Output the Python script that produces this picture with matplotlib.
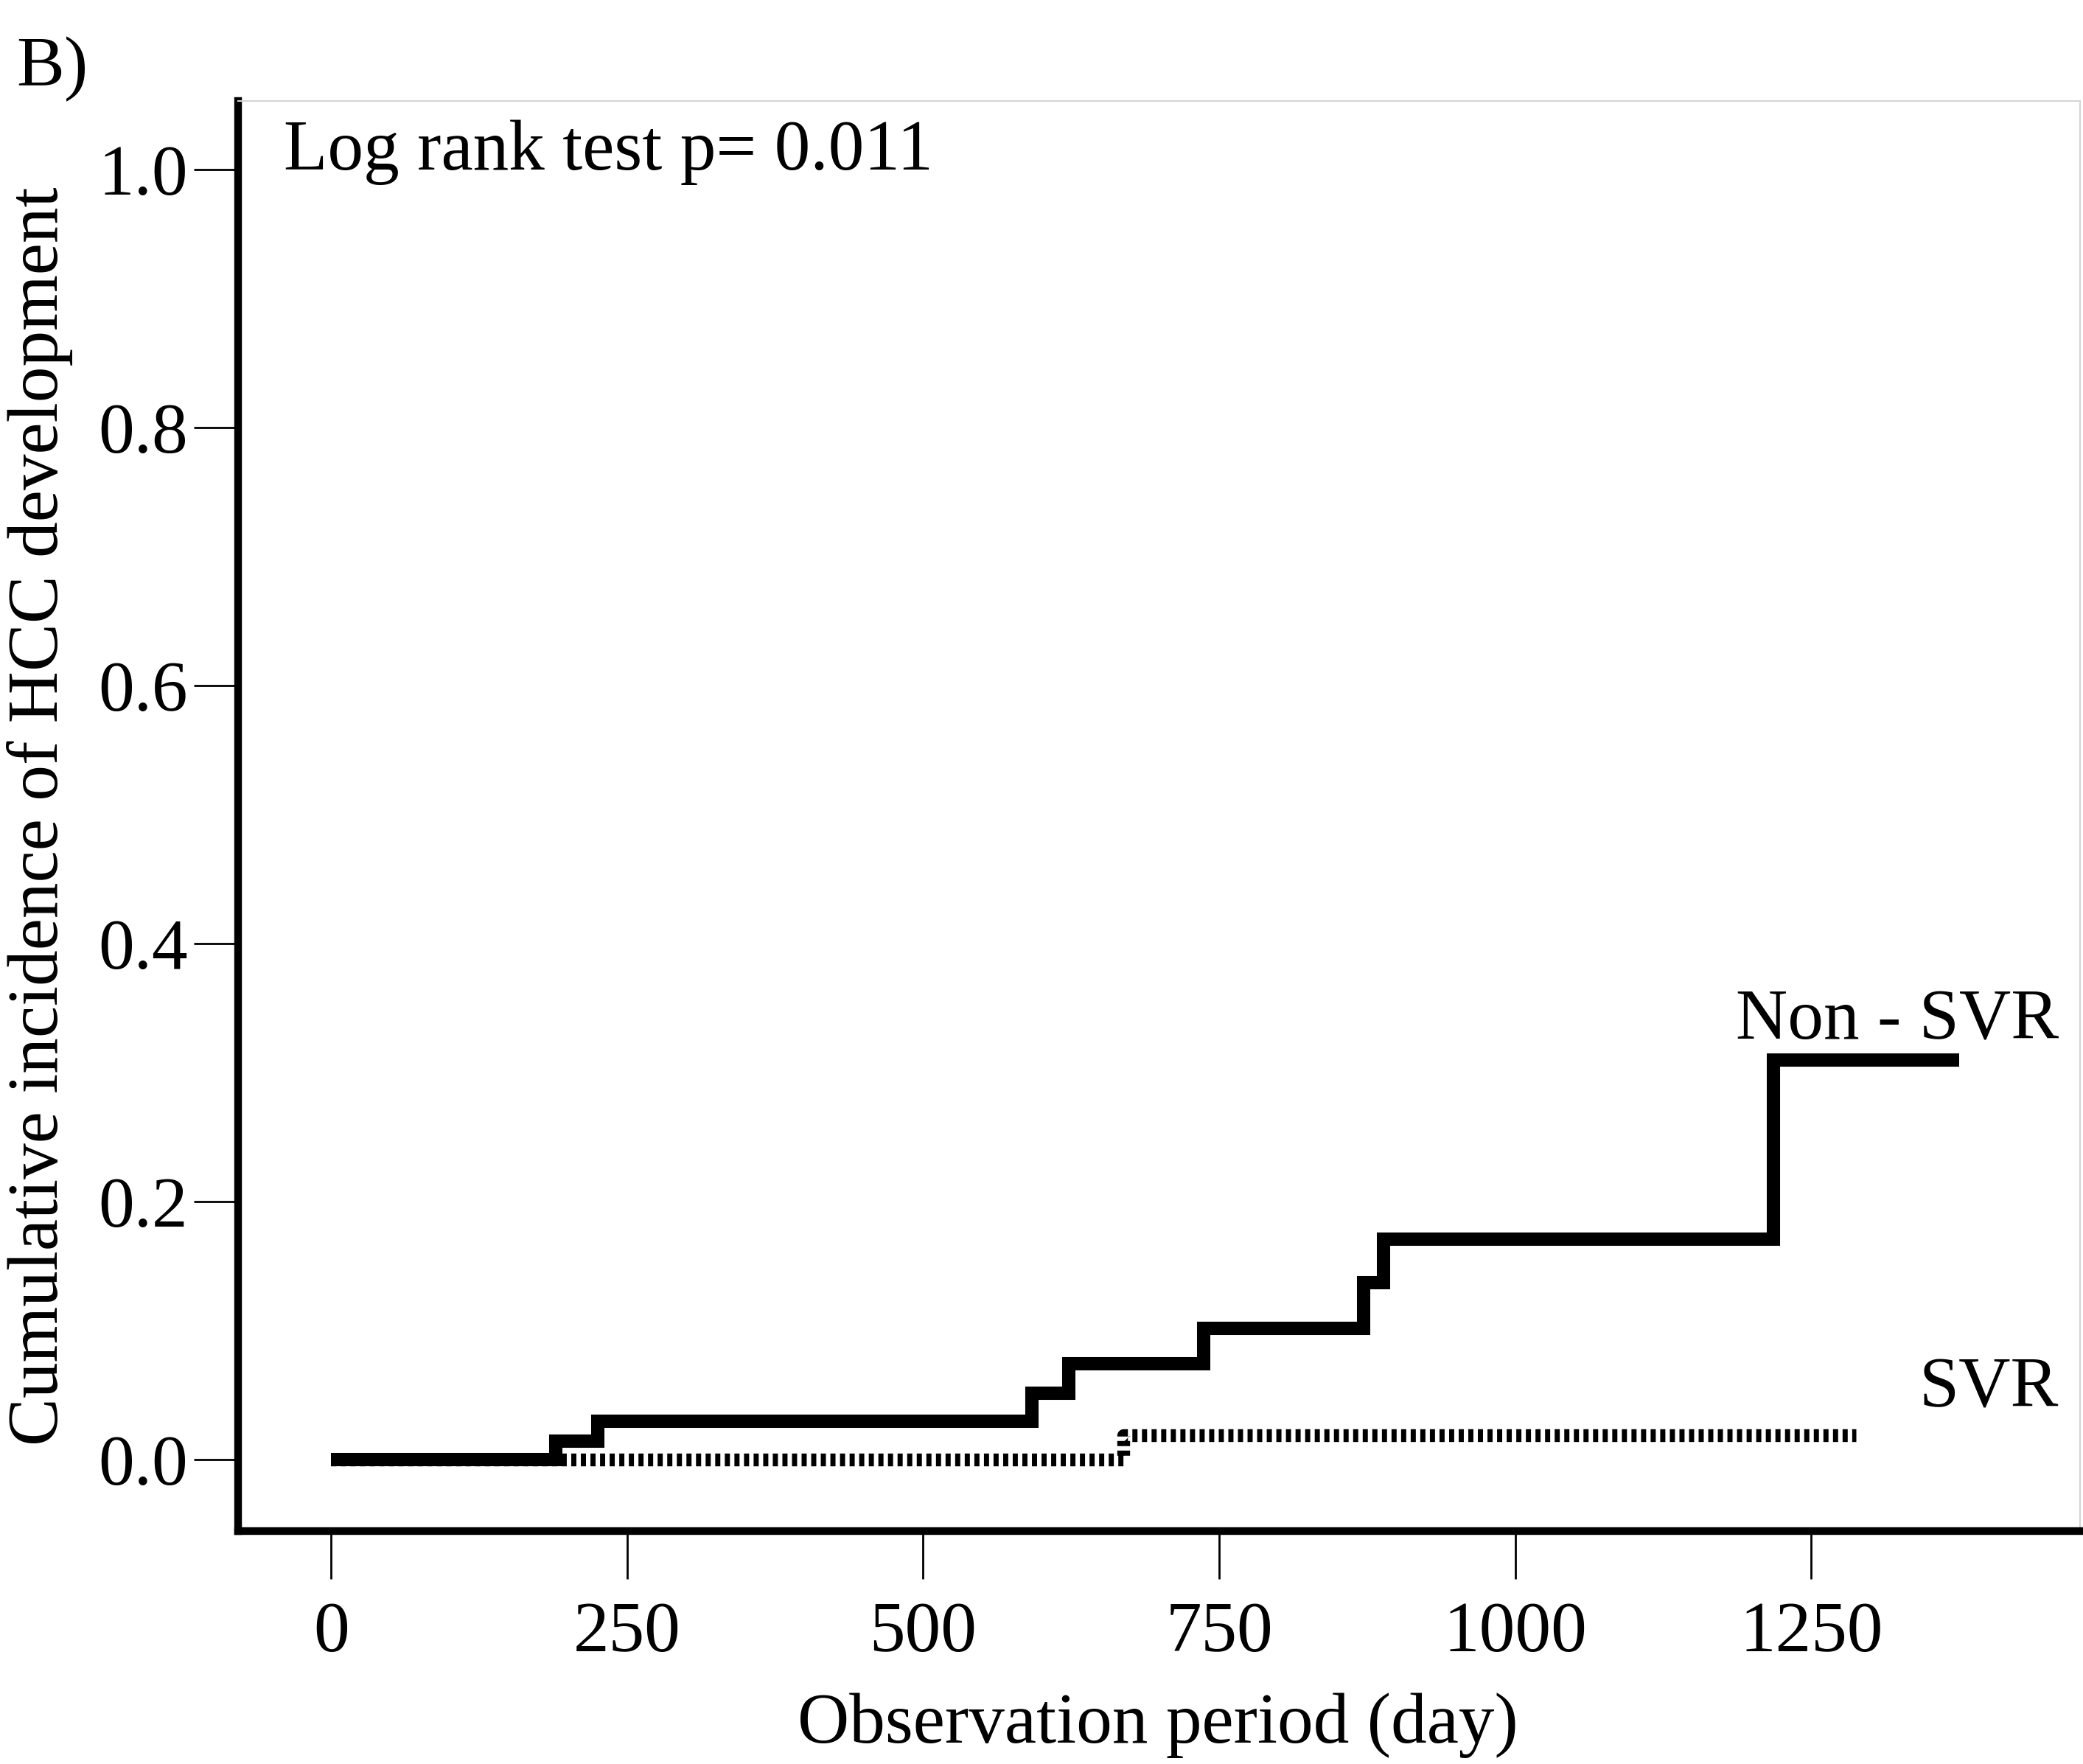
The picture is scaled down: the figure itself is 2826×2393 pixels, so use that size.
import matplotlib
matplotlib.use("Agg")
import matplotlib.pyplot as plt

# Kaplan-Meier style cumulative incidence
nonsvr_days = [0, 190, 225, 592, 623, 737, 872, 889, 1218, 1375]
nonsvr_inc = [0.0, 0.0143, 0.0297, 0.0514, 0.0743, 0.1017, 0.137, 0.171, 0.310, 0.310]
svr_days = [0, 669, 1288]
svr_inc = [0.0, 0.019, 0.019]

x_ticks = [0, 250, 500, 750, 1000, 1250]
y_ticks = [0.0, 0.2, 0.4, 0.6, 0.8, 1.0]

plt.rcParams["font.family"] = ["Liberation Serif", "DejaVu Serif"]
FS = 70

fig = plt.figure(figsize=(28.26, 23.93), dpi=100)
ax = fig.add_axes([0.1143, 0.1320, 0.8843, 0.8107])

# SVR: dense dotted line, drawn under the solid curve
ax.step(svr_days, svr_inc, where="post", color="black", lw=12.5,
        dashes=(0.4, 0.35), zorder=2)
ax.step(nonsvr_days, nonsvr_inc, where="post", color="black", lw=13,
        solid_joinstyle="miter", solid_capstyle="butt", zorder=3)

ax.set_xlim(-78.5, 1477)
ax.set_ylim(-0.0554, 1.053)
ax.set_xticks(x_ticks)
ax.set_xticklabels([str(v) for v in x_ticks])
ax.set_yticks(y_ticks)
ax.set_yticklabels([f"{v:.1f}" for v in y_ticks])
ax.tick_params(axis="y", direction="out", length=43, width=2, pad=6, labelsize=FS)
ax.tick_params(axis="x", direction="out", length=47, width=2, pad=22, labelsize=FS)

for side in ("left", "bottom"):
    ax.spines[side].set_linewidth(7.5)
    ax.spines[side].set_color("black")
for side in ("top", "right"):
    ax.spines[side].set_linewidth(1.5)
    ax.spines[side].set_color("#d4d4d4")

ax.set_xlabel("Observation period (day)", fontsize=FS, va="baseline")
ax.xaxis.set_label_coords(0.4994, -0.148)
ax.set_ylabel("Cumulative incidence of HCC development", fontsize=FS)
ax.yaxis.set_label_coords(-0.0896, 0.5)

ax.text(-40, 1.0, "Log rank test p= 0.011", fontsize=FS, va="baseline", ha="left")
ax.text(1459, 0.326, "Non - SVR", fontsize=FS, va="baseline", ha="right")
ax.text(1459, 0.041, "SVR", fontsize=FS, va="baseline", ha="right")

fig.text(0.0078, 0.951, "B)", fontsize=FS, va="baseline", ha="left")

fig.savefig("out.png", dpi=100, facecolor="white")
